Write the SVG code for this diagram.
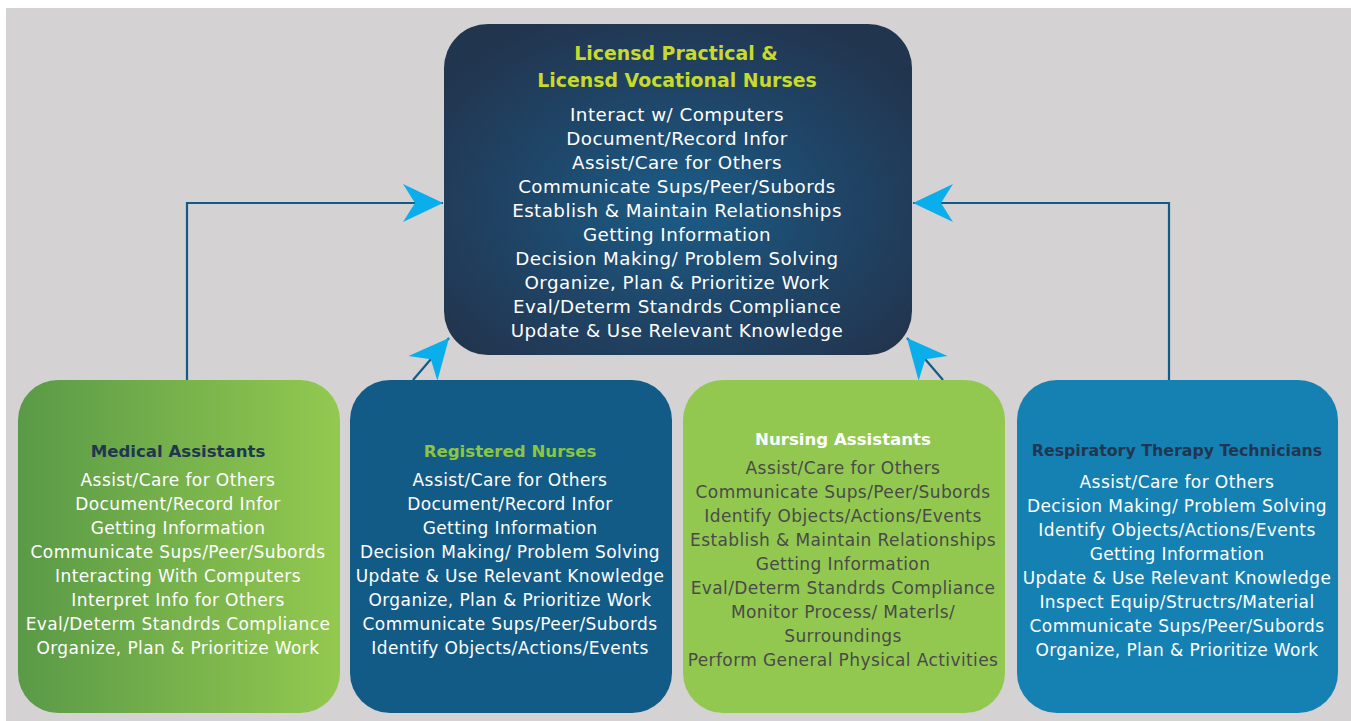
<svg xmlns="http://www.w3.org/2000/svg" width="1351" height="721" viewBox="0 0 1351 721">
  <defs>
    <radialGradient id="gTop" cx="0.5" cy="0.55" r="0.62">
      <stop offset="0" stop-color="#1b5c87"/>
      <stop offset="0.55" stop-color="#1f4567"/>
      <stop offset="1" stop-color="#22354f"/>
    </radialGradient>
    <linearGradient id="gMA" x1="0" y1="0" x2="1" y2="0">
      <stop offset="0" stop-color="#5a9a47"/>
      <stop offset="1" stop-color="#93c950"/>
    </linearGradient>
    <marker id="arr" markerUnits="userSpaceOnUse" markerWidth="44" markerHeight="42" viewBox="-42 -21 44 42" refX="0" refY="0" orient="auto">
      <path d="M0,0 L-40,-19 L-28,0 L-40,19 Z" fill="#0aaeeb"/>
    </marker>
    <style>
      text { font-family: "DejaVu Sans", "Noto Sans", sans-serif; text-anchor: middle; }
      .ti { font-weight: bold; font-size: 18.9px; fill: #c8da2b; }
      .it { font-size: 18.3px; fill: #ffffff; letter-spacing: 0.45px; }
      .bt { font-weight: bold; font-size: 16.6px; }
      .bi { font-size: 17px; fill: #ffffff; letter-spacing: 0.4px; }
      .dk { fill: #4a4a4a; }
      .conn { fill: none; stroke: #135b87; stroke-width: 2.2; }
    </style>
  </defs>

  <rect x="0" y="0" width="1351" height="721" fill="#ffffff"/>
  <rect x="6" y="8" width="1345" height="713" fill="#d4d2d3"/>

  <g id="connectors">
    <path class="conn" d="M187,380 V203 H443" marker-end="url(#arr)"/>
    <path class="conn" d="M1169,380 V203 H913" marker-end="url(#arr)"/>
    <path class="conn" d="M413,380 L449,338" marker-end="url(#arr)"/>
    <path class="conn" d="M943,380 L907,338" marker-end="url(#arr)"/>
  </g>

  <g id="node-lpn">
    <rect x="444" y="24" width="468" height="331" rx="44" fill="url(#gTop)"/>
    <text class="ti" x="676" y="60">Licensd Practical &amp;</text>
    <text class="ti" x="677" y="87">Licensd Vocational Nurses</text>
    <text class="it" x="677" y="121">Interact w/ Computers</text>
    <text class="it" x="677" y="145">Document/Record Infor</text>
    <text class="it" x="677" y="169">Assist/Care for Others</text>
    <text class="it" x="677" y="193">Communicate Sups/Peer/Subords</text>
    <text class="it" x="677" y="217">Establish &amp; Maintain Relationships</text>
    <text class="it" x="677" y="241">Getting Information</text>
    <text class="it" x="677" y="265">Decision Making/ Problem Solving</text>
    <text class="it" x="677" y="289">Organize, Plan &amp; Prioritize Work</text>
    <text class="it" x="677" y="313">Eval/Determ Standrds Compliance</text>
    <text class="it" x="677" y="337">Update &amp; Use Relevant Knowledge</text>
  </g>

  <g id="node-ma">
    <rect x="18" y="380" width="322" height="333" rx="40" fill="url(#gMA)"/>
    <text class="bt" x="178" y="457" fill="#213650">Medical Assistants</text>
    <text class="bi" x="178" y="486">Assist/Care for Others</text>
    <text class="bi" x="178" y="510">Document/Record Infor</text>
    <text class="bi" x="178" y="534">Getting Information</text>
    <text class="bi" x="178" y="558">Communicate Sups/Peer/Subords</text>
    <text class="bi" x="178" y="582">Interacting With Computers</text>
    <text class="bi" x="178" y="606">Interpret Info for Others</text>
    <text class="bi" x="178" y="630">Eval/Determ Standrds Compliance</text>
    <text class="bi" x="178" y="654">Organize, Plan &amp; Prioritize Work</text>
  </g>

  <g id="node-rn">
    <rect x="350" y="380" width="322" height="333" rx="40" fill="#135b87"/>
    <text class="bt" x="510" y="457" fill="#8cc63f">Registered Nurses</text>
    <text class="bi" x="510" y="486">Assist/Care for Others</text>
    <text class="bi" x="510" y="510">Document/Record Infor</text>
    <text class="bi" x="510" y="534">Getting Information</text>
    <text class="bi" x="510" y="558">Decision Making/ Problem Solving</text>
    <text class="bi" x="510" y="582">Update &amp; Use Relevant Knowledge</text>
    <text class="bi" x="510" y="606">Organize, Plan &amp; Prioritize Work</text>
    <text class="bi" x="510" y="630">Communicate Sups/Peer/Subords</text>
    <text class="bi" x="510" y="654">Identify Objects/Actions/Events</text>
  </g>

  <g id="node-na">
    <rect x="683" y="380" width="322" height="333" rx="40" fill="#92c850"/>
    <text class="bt" x="843" y="445" fill="#ffffff">Nursing Assistants</text>
    <text class="bi dk" x="843" y="474">Assist/Care for Others</text>
    <text class="bi dk" x="843" y="498">Communicate Sups/Peer/Subords</text>
    <text class="bi dk" x="843" y="522">Identify Objects/Actions/Events</text>
    <text class="bi dk" x="843" y="546">Establish &amp; Maintain Relationships</text>
    <text class="bi dk" x="843" y="570">Getting Information</text>
    <text class="bi dk" x="843" y="594">Eval/Determ Standrds Compliance</text>
    <text class="bi dk" x="843" y="618">Monitor Process/ Materls/</text>
    <text class="bi dk" x="843" y="642">Surroundings</text>
    <text class="bi dk" x="843" y="666">Perform General Physical Activities</text>
  </g>

  <g id="node-rtt">
    <rect x="1017" y="380" width="321" height="333" rx="40" fill="#1581b2"/>
    <text class="bt" x="1177" y="456" fill="#213650" style="font-size:15.8px">Respiratory Therapy Technicians</text>
    <text class="bi" x="1177" y="488">Assist/Care for Others</text>
    <text class="bi" x="1177" y="512">Decision Making/ Problem Solving</text>
    <text class="bi" x="1177" y="536">Identify Objects/Actions/Events</text>
    <text class="bi" x="1177" y="560">Getting Information</text>
    <text class="bi" x="1177" y="584">Update &amp; Use Relevant Knowledge</text>
    <text class="bi" x="1177" y="608">Inspect Equip/Structrs/Material</text>
    <text class="bi" x="1177" y="632">Communicate Sups/Peer/Subords</text>
    <text class="bi" x="1177" y="656">Organize, Plan &amp; Prioritize Work</text>
  </g>
</svg>
